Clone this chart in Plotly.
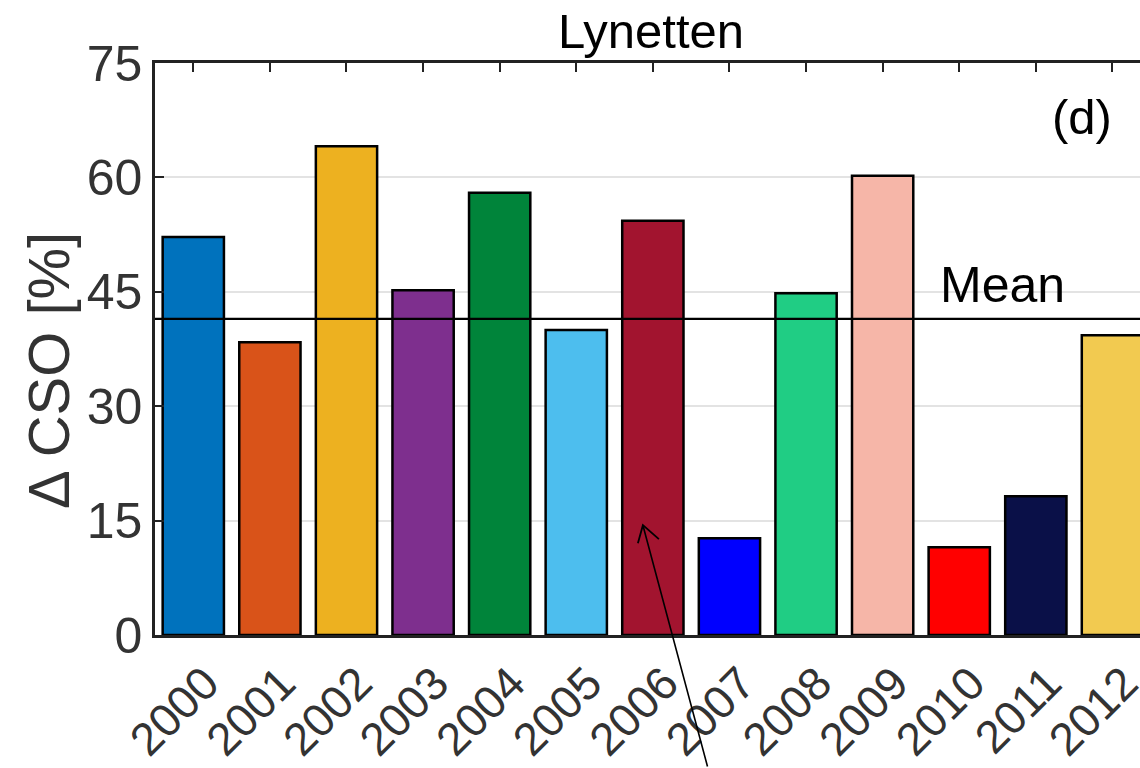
import plotly.graph_objects as go

years = [2000, 2001, 2002, 2003, 2004, 2005, 2006, 2007, 2008, 2009, 2010, 2011, 2012]
year_labels = [str(y) for y in years]
delta_cso = [52.2, 38.4, 64.1, 45.2, 58.0, 40.0, 54.3, 12.7, 44.8, 60.2, 11.5, 18.2, 39.3]
bar_colors = ["#0072BD", "#D95319", "#EDB120", "#7E2F8E", "#00843A", "#4DBEEE", "#A2142F",
              "#0000FF", "#20CD84", "#F6B6A8", "#FF0000", "#0A1048", "#F2CA50"]
y_ticks = [0, 15, 30, 45, 60, 75]
mean_val = sum(delta_cso) / len(delta_cso)

# arrow annotation target (points at the 2006 bar)
arrow_x, arrow_y = 2005.87, 14.4

FONT = "Liberation Sans, Arial, sans-serif"

fig = go.Figure()
fig.add_trace(go.Bar(
    x=years, y=delta_cso, width=0.8,
    marker=dict(color=bar_colors, line=dict(color="black", width=2.5)),
    showlegend=False,
))

fig.add_shape(type="line", xref="paper", x0=0, x1=1, yref="y", y0=mean_val, y1=mean_val,
              line=dict(color="black", width=2.2), layer="above")

fig.add_annotation(x=2010.57, y=mean_val, xref="x", yref="y", text="Mean", showarrow=False,
                   yanchor="bottom", yshift=4, font=dict(size=50, color="black", family=FONT))
fig.add_annotation(x=2012.02, y=67.9, xref="x", yref="y", text="(d)", showarrow=False,
                   xanchor="right", yanchor="middle", font=dict(size=49, color="black", family=FONT))
fig.add_annotation(x=(48 - 155) / 985, y=0.4615, xref="paper", yref="paper", text="Δ CSO [%]",
                   textangle=-90, showarrow=False, xanchor="center", yanchor="middle",
                   font=dict(size=58, color="#333333", family=FONT))
# arrow shaft
fig.add_annotation(x=arrow_x, y=arrow_y, xref="x", yref="y", text="", showarrow=True,
                   ax=65, ay=243, axref="pixel", ayref="pixel",
                   arrowhead=0, arrowwidth=1.6, arrowcolor="black", standoff=0)
# open V arrowhead (pixel offsets around the target)
fig.add_shape(type="path", xref="x", yref="y", xsizemode="pixel", ysizemode="pixel",
              xanchor=arrow_x, yanchor=arrow_y,
              path="M -5,-18 L 0,0 L 16,-14",
              line=dict(color="black", width=1.8), layer="above")

fig.update_layout(
    width=1140, height=768,
    margin=dict(l=155, r=0, t=63, b=133),
    paper_bgcolor="white", plot_bgcolor="white",
    bargap=0.2,
    title=dict(text="Lynetten", x=651/1140, xanchor="center", xref="container",
               y=1 - 31/768, yanchor="middle", yref="container",
               font=dict(size=49, color="black", family=FONT)),
    font=dict(family=FONT, color="#333333"),
)
fig.update_xaxes(
    range=[1999.5, 2012.36], tickvals=years, ticktext=year_labels, tickangle=-45,
    ticklabelshift=12, ticklabeloverflow="allow", automargin=False,
    showline=True, linecolor="#222222", linewidth=2.5, mirror="ticks",
    ticks="inside", ticklen=9, tickwidth=2, tickcolor="#222222",
    showgrid=False, zeroline=False, layer="below traces",
    tickfont=dict(size=46, color="#333333", family=FONT),
)
fig.update_yaxes(
    range=[0, 75], tickvals=y_ticks, automargin=False,
    showline=True, linecolor="#222222", linewidth=2.5,
    ticks="inside", ticklen=9, tickwidth=2, tickcolor="#222222",
    showgrid=True, gridcolor="#e3e3e3", gridwidth=2, zeroline=False,
    tickfont=dict(size=50, color="#333333", family=FONT),
)

fig.write_html("out.html")
